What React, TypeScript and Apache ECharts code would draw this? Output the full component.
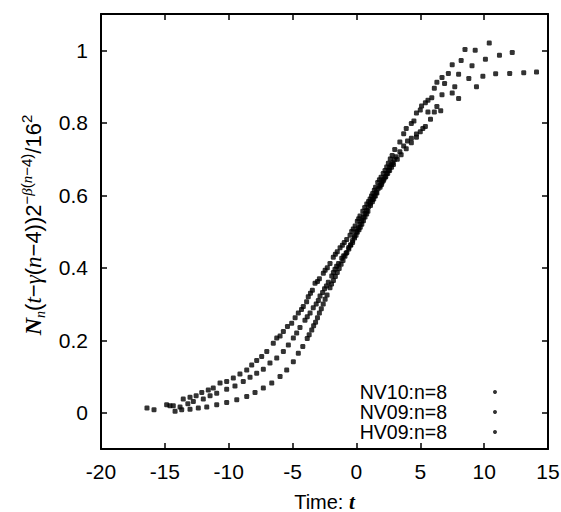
import React, { useEffect, useRef } from "react";
import * as echarts from "echarts";

const seriesNames = ["NV10:n=8", "NV09:n=8", "HV09:n=8"];

const nv10: number[][] = [
  [-16.4, 0.013], [-15.85, 0.008], [-14.86, 0.022], [-14.6, 0.019], [-13.56, 0.038],
  [-13.03, 0.043], [-12.55, 0.047], [-12.11, 0.056], [-11.6, 0.063], [-11.21, 0.068],
  [-10.68, 0.082], [-10.16, 0.086], [-9.64, 0.096], [-9.12, 0.107], [-8.59, 0.118],
  [-8.2, 0.132], [-7.81, 0.144], [-7.42, 0.155], [-7.02, 0.169], [-6.51, 0.192],
  [-6.24, 0.206], [-5.98, 0.212], [-5.72, 0.224], [-5.4, 0.238], [-5.07, 0.247],
  [-4.8, 0.262], [-4.55, 0.275], [-4.3, 0.285], [-4.16, 0.293], [-3.9, 0.306],
  [-3.77, 0.32], [-3.6, 0.33], [-3.45, 0.338], [-3.24, 0.357], [-3.05, 0.362],
  [-2.9, 0.37], [-2.59, 0.385], [-2.45, 0.393], [-2.28, 0.4], [-2.07, 0.412],
  [-1.81, 0.429], [-1.65, 0.437], [-1.5, 0.444], [-1.28, 0.455], [-1.1, 0.462],
  [-0.95, 0.47], [-0.76, 0.478], [-0.5, 0.49], [-0.37, 0.5], [-0.25, 0.507],
  [-0.1, 0.515], [0.07, 0.528], [0.18, 0.535], [0.28, 0.543], [0.5, 0.556],
  [0.65, 0.566], [0.81, 0.576], [0.95, 0.583], [1.07, 0.59], [1.18, 0.598],
  [1.28, 0.605], [1.4, 0.614], [1.5, 0.622], [1.67, 0.635], [1.8, 0.643],
  [1.93, 0.65], [2.1, 0.66], [2.24, 0.668], [2.37, 0.678], [2.5, 0.688],
  [2.65, 0.7], [2.8, 0.71], [3.0, 0.726], [3.4, 0.747], [3.7, 0.77],
  [3.9, 0.784], [4.3, 0.798], [4.5, 0.805], [4.7, 0.827], [5.0, 0.835],
  [5.1, 0.846], [5.4, 0.855], [5.6, 0.862], [5.9, 0.869], [6.1, 0.895],
  [6.3, 0.912], [6.7, 0.925], [7.2, 0.936], [7.5, 0.96], [8.2, 0.972],
  [8.5, 1.002], [9.3, 1.0], [10.4, 1.02],
];

const nv09: number[][] = [
  [-14.34, 0.019], [-13.81, 0.016], [-13.2, 0.025], [-12.77, 0.031], [-11.99, 0.038],
  [-11.46, 0.047], [-10.94, 0.054], [-10.16, 0.065], [-9.51, 0.074], [-8.86, 0.086],
  [-8.33, 0.098], [-7.81, 0.109], [-7.29, 0.12], [-6.77, 0.137], [-6.24, 0.151],
  [-5.72, 0.169], [-5.33, 0.187], [-4.94, 0.206], [-4.68, 0.22], [-4.42, 0.235],
  [-4.03, 0.255], [-3.85, 0.265], [-3.63, 0.275], [-3.38, 0.29], [-3.15, 0.3],
  [-2.98, 0.31], [-2.85, 0.322], [-2.65, 0.332], [-2.5, 0.342], [-2.35, 0.35],
  [-2.2, 0.36], [-1.93, 0.377], [-1.8, 0.387], [-1.68, 0.396], [-1.55, 0.404],
  [-1.4, 0.412], [-1.15, 0.426], [-1.0, 0.433], [-0.81, 0.44], [-0.6, 0.456],
  [-0.45, 0.463], [-0.3, 0.47], [-0.15, 0.482], [-0.03, 0.49], [0.07, 0.498],
  [0.2, 0.505], [0.3, 0.512], [0.42, 0.52], [0.55, 0.53], [0.67, 0.54],
  [0.8, 0.548], [0.9, 0.556], [1.1, 0.572], [1.25, 0.582], [1.35, 0.59],
  [1.48, 0.598], [1.6, 0.606], [1.85, 0.622], [1.97, 0.63], [2.1, 0.64],
  [2.25, 0.65], [2.37, 0.66], [2.5, 0.668], [2.6, 0.677], [2.72, 0.684],
  [2.84, 0.69], [2.97, 0.698], [3.1, 0.706], [3.4, 0.72], [3.7, 0.736],
  [4.0, 0.75], [4.3, 0.757], [4.7, 0.769], [5.2, 0.784], [5.6, 0.83],
  [6.1, 0.83], [6.6, 0.833], [6.9, 0.908], [8.0, 0.934], [8.8, 0.922],
  [9.9, 0.928], [10.9, 0.935], [12.0, 0.936], [13.1, 0.938], [14.1, 0.94],
];

const hv09: number[][] = [
  [-14.2, 0.004], [-13.68, 0.008], [-13.03, 0.01], [-12.38, 0.013], [-11.72, 0.016],
  [-10.94, 0.022], [-10.16, 0.028], [-9.37, 0.036], [-8.59, 0.045], [-7.94, 0.056],
  [-7.29, 0.068], [-6.63, 0.082], [-5.98, 0.1], [-5.46, 0.118], [-4.94, 0.141],
  [-4.55, 0.164], [-4.2, 0.183], [-3.85, 0.205], [-3.7, 0.215], [-3.5, 0.228],
  [-3.35, 0.24], [-3.2, 0.25], [-3.05, 0.262], [-2.9, 0.275], [-2.75, 0.287],
  [-2.6, 0.3], [-2.45, 0.313], [-2.3, 0.325], [-2.07, 0.345], [-1.95, 0.355],
  [-1.8, 0.365], [-1.65, 0.376], [-1.5, 0.387], [-1.35, 0.398], [-1.2, 0.41],
  [-1.05, 0.42], [-0.9, 0.432], [-0.75, 0.442], [-0.6, 0.452], [-0.45, 0.463],
  [-0.3, 0.475], [-0.15, 0.487], [0.0, 0.5], [0.14, 0.51], [0.28, 0.52],
  [0.42, 0.53], [0.55, 0.54], [0.68, 0.55], [0.8, 0.558], [0.95, 0.568],
  [1.1, 0.578], [1.25, 0.588], [1.4, 0.598], [1.55, 0.608], [1.7, 0.618],
  [1.85, 0.627], [2.0, 0.636], [2.15, 0.644], [2.3, 0.652], [2.45, 0.66],
  [2.6, 0.668], [2.75, 0.677], [2.9, 0.685], [3.2, 0.699], [3.5, 0.712],
  [3.9, 0.728], [4.3, 0.745], [4.7, 0.76], [5.0, 0.775], [5.4, 0.79],
  [5.8, 0.81], [6.3, 0.845], [6.7, 0.877], [7.5, 0.882], [7.7, 0.899],
  [8.0, 0.867], [9.05, 0.957], [9.4, 0.899], [10.1, 0.975], [11.2, 0.986],
  [12.2, 0.994],
];

const yTickValues = [0, 0.2, 0.4, 0.6, 0.8, 1];
const yTickLabels = ["0", "0.2", "0.4", "0.6", "0.8", "1"];

const yAxisTitle =
  "{N|N}{sub|n}{m|(}{it|t}{m|\u2212}{it|\u03b3}{m|(}{it|n}{m|\u22124))2}" +
  "{sup|\u2212}{supi|\u03b2}{sup|(}{supi|n}{sup|\u22124)}{m|/16}{sup|2}";

export default function App() {
  const ref = useRef<HTMLDivElement>(null);
  useEffect(() => {
    document.body.style.margin = "0";
    const chart = echarts.init(ref.current!, undefined, { renderer: "svg" });
    const font = "'Liberation Sans', Arial, Helvetica, sans-serif";
    const serif = "'Liberation Serif', 'Times New Roman', serif";
    const lineStyle = { color: "#000", width: 2 };
    const tick = { inside: true, length: 6, lineStyle: { color: "#000", width: 1.5 } };
    const xBase: any = {
      type: "value",
      min: -20,
      max: 15,
      interval: 5,
      splitLine: { show: false },
      axisLine: { show: true, onZero: false, lineStyle },
      axisTick: tick,
    };
    const yBase: any = {
      type: "value",
      min: -0.1,
      max: 1.1,
      splitLine: { show: false },
      axisLine: { show: true, onZero: false, lineStyle },
      axisTick: { ...tick, customValues: yTickValues },
    };
    const dot = (name: string, data: number[][]) => ({
      name,
      type: "scatter",
      data,
      symbol: "roundRect",
      symbolSize: 5,
      itemStyle: { color: "#000" },
      xAxisIndex: 0,
      yAxisIndex: 0,
    });
    chart.setOption({
      animation: false,
      backgroundColor: "#fff",
      grid: {
        left: 101,
        right: 13,
        top: 14,
        bottom: 63,
        containLabel: false,
        outerBoundsMode: "none",
      },
      xAxis: [
        {
          ...xBase,
          position: "bottom",
          axisLabel: {
            fontSize: 21,
            color: "#000",
            fontFamily: font,
            margin: 12,
            showMinLabel: true,
            showMaxLabel: true,
          },
          name: "Time: {i|t}",
          nameLocation: "middle",
          nameGap: 42,
          nameTextStyle: {
            fontSize: 20,
            color: "#000",
            fontFamily: font,
            rich: {
              i: { fontFamily: serif, fontStyle: "italic", fontWeight: "bold", fontSize: 21, color: "#000" },
            },
          },
        },
        { ...xBase, position: "top", axisLabel: { show: false } },
      ],
      yAxis: [
        {
          ...yBase,
          position: "left",
          axisLabel: {
            customValues: yTickValues,
            fontSize: 21,
            color: "#000",
            fontFamily: font,
            margin: 13,
            formatter: (v: number) => {
              const i = yTickValues.findIndex((t) => Math.abs(t - v) < 1e-6);
              return i >= 0 ? yTickLabels[i] : "";
            },
          },
        },
        { ...yBase, position: "right", axisLabel: { show: false } },
      ],
      legend: {
        show: true,
        orient: "vertical",
        right: 64,
        top: 382,
        align: "right",
        padding: 0,
        itemGap: 0,
        itemWidth: 4,
        itemHeight: 4,
        icon: "circle",
        selectedMode: false,
        data: seriesNames,
        textStyle: {
          fontSize: 19.5,
          lineHeight: 19.5,
          color: "#000",
          fontFamily: font,
          padding: [0, 41, 0, 0],
        },
      },
      graphic: [
        {
          type: "text",
          x: 33,
          y: 225,
          rotation: Math.PI / 2,
          style: {
            text: yAxisTitle,
            align: "center",
            verticalAlign: "middle",
            fill: "#000",
            fontSize: 22,
            fontFamily: font,
            rich: {
              m: { fontSize: 22, fontFamily: font, lineHeight: 28, fill: "#000" },
              N: { fontSize: 24, fontFamily: serif, fontStyle: "italic", fontWeight: "bold", lineHeight: 28, fill: "#000" },
              it: { fontSize: 23, fontFamily: serif, fontStyle: "italic", lineHeight: 28, fill: "#000" },
              sub: { fontSize: 14, fontFamily: serif, fontStyle: "italic", lineHeight: 14, verticalAlign: "bottom", fill: "#000" },
              sup: { fontSize: 15, fontFamily: font, lineHeight: 15, verticalAlign: "top", fill: "#000" },
              supi: { fontSize: 15, fontFamily: serif, fontStyle: "italic", lineHeight: 15, verticalAlign: "top", fill: "#000" },
            },
          },
        },
      ],
      series: [dot(seriesNames[0], nv10), dot(seriesNames[1], nv09), dot(seriesNames[2], hv09)],
    });
    return () => chart.dispose();
  }, []);
  return <div ref={ref} style={{ width: 561, height: 512 }} />;
}
